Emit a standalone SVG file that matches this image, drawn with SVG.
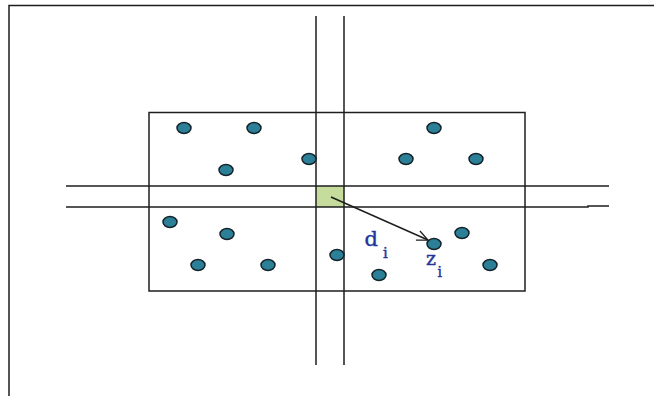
<svg xmlns="http://www.w3.org/2000/svg" width="654" height="396" viewBox="0 0 654 396">
<defs>
<style>
.ln{stroke:#1e1e1e;stroke-width:1.5;fill:none}
.dot{fill:#2b7f97;stroke:#14232a;stroke-width:1.5}
.lbl{font-family:"DejaVu Serif","Liberation Serif",serif;fill:#22349a;stroke:#22349a;stroke-width:0.4}
</style>
<marker id="ah" markerWidth="14" markerHeight="14" refX="12" refY="6" orient="auto" markerUnits="userSpaceOnUse">
<path d="M1,1 L12,6 L1,11" fill="none" stroke="#1e1e1e" stroke-width="1.3"/>
</marker>
</defs>
<rect width="654" height="396" fill="#fff"/>
<g id="frame"><path class="ln" d="M9,396 V5.5 H654"/></g>
<g id="region"><rect class="ln" x="149" y="112.5" width="376" height="178.5"/></g>
<g id="cell"><rect x="316" y="186" width="28" height="21" fill="#c6dc9c"/></g>
<g id="connectors">
<line class="ln" x1="316" y1="16" x2="316" y2="365"/>
<line class="ln" x1="344" y1="16" x2="344" y2="365"/>
<line class="ln" x1="66" y1="186" x2="609" y2="186"/>
<path class="ln" d="M66,207 H588 V206 H609"/>
<line class="ln" x1="331" y1="197" x2="428" y2="240" marker-end="url(#ah)"/>
</g>
<g id="points">
<ellipse class="dot" cx="184" cy="128" rx="7" ry="5.5"/>
<ellipse class="dot" cx="254" cy="128" rx="7" ry="5.5"/>
<ellipse class="dot" cx="434" cy="128" rx="7" ry="5.5"/>
<ellipse class="dot" cx="226" cy="170" rx="7" ry="5.5"/>
<ellipse class="dot" cx="309" cy="159" rx="7" ry="5.5"/>
<ellipse class="dot" cx="406" cy="159" rx="7" ry="5.5"/>
<ellipse class="dot" cx="476" cy="159" rx="7" ry="5.5"/>
<ellipse class="dot" cx="170" cy="222" rx="7" ry="5.5"/>
<ellipse class="dot" cx="227" cy="234" rx="7" ry="5.5"/>
<ellipse class="dot" cx="462" cy="233" rx="7" ry="5.5"/>
<ellipse class="dot" cx="434" cy="244" rx="7" ry="5.5"/>
<ellipse class="dot" cx="198" cy="265" rx="7" ry="5.5"/>
<ellipse class="dot" cx="268" cy="265" rx="7" ry="5.5"/>
<ellipse class="dot" cx="337" cy="255" rx="7" ry="5.5"/>
<ellipse class="dot" cx="379" cy="275" rx="7" ry="5.5"/>
<ellipse class="dot" cx="490" cy="265" rx="7" ry="5.5"/>
</g>
<g id="labels">
<text class="lbl" x="364.5" y="246" font-size="21">d</text>
<text class="lbl" x="383" y="258" font-size="15">i</text>
<text class="lbl" x="426" y="264.5" font-size="19">z</text>
<text class="lbl" x="437.5" y="276.5" font-size="14">i</text>
</g>
</svg>
